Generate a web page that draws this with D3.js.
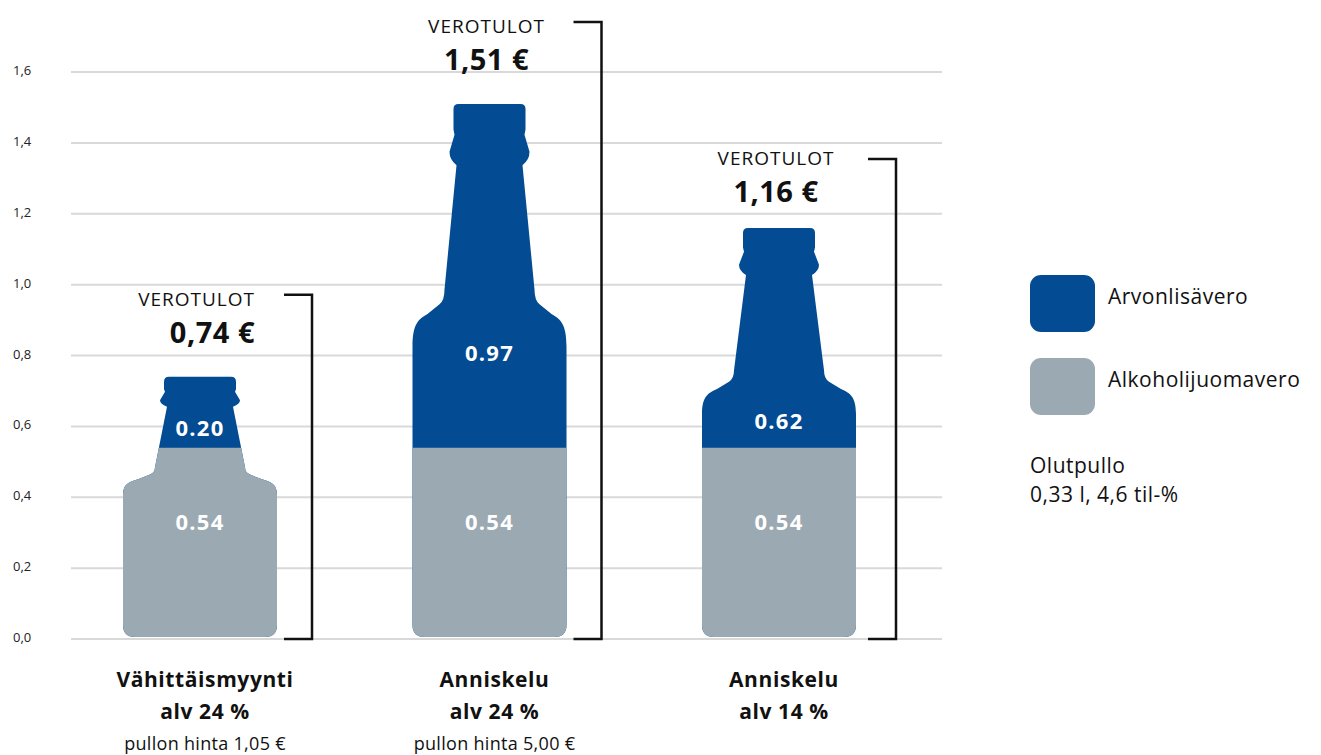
<!DOCTYPE html>
<html>
<head>
<meta charset="utf-8">
<script src="https://cdn.jsdelivr.net/npm/d3@7"></script>
<style>
  body { margin: 0; background: #fff; }
  text { font-family: "Open Sans", sans-serif; }
</style>
</head>
<body>
<div id="chart"></div>
<script>
// data
const categories = ["Vähittäismyynti", "Anniskelu", "Anniskelu "];
const alvLabels = ["alv 24 %", "alv 24 %", "alv 14 %"];
const priceLabels = ["pullon hinta 1,05 €", "pullon hinta 5,00 €", ""];
const alkoholivero = [0.54, 0.54, 0.54];
const arvonlisavero = [0.20, 0.97, 0.62];
const totalLabels = ["0,74 €", "1,51 €", "1,16 €"];
const yTicks = [0, 0.2, 0.4, 0.6, 0.8, 1.0, 1.2, 1.4, 1.6];
const legendNames = ["Arvonlisävero", "Alkoholijuomavero"];

const BLUE = "#034b93", GRAY = "#9ba9b2";
const width = 1321, height = 755;

let svg = d3.select("#chart").append("svg")
    .attr("width", width)
    .attr("height", height);

let y = d3.scaleLinear().domain([0, 1.6]).range([639, 72]);
let x = d3.scalePoint().domain(categories).range([200, 779]);

// gridlines + y labels
svg.append("g").selectAll("line").data(yTicks).enter()
    .append("line")
    .attr("x1", 71).attr("x2", 942)
    .attr("y1", d => y(d)).attr("y2", d => y(d))
    .attr("stroke", "#d9d9d9").attr("stroke-width", 2);

svg.append("g").selectAll("text").data(yTicks).enter()
    .append("text")
    .attr("x", 13)
    .attr("y", d => y(d) + 3)
    .style("font-size", "13px")
    .attr("fill", "#222")
    .text(d => d3.format(".1f")(d).replace(".", ","));

// bottle outline, left profile mirrored to the right
function bottlePath(cx, y0, y1) {
  const H = y0 - y1;
  const Y = t => y0 - t * H;
  const r = 12;
  const start = [-77 + r, y0];
  const segs = [
    ["Q", [[-77, y0]], [-77, y0 - r]],
    ["L", [], [-77, Y(0.545)]],
    ["C", [[-77, Y(0.588)], [-71, Y(0.596)]], [-62, Y(0.606)]],
    ["L", [], [-50, Y(0.624)]],
    ["Q", [[-45, Y(0.632)]], [-45, Y(0.652)]],
    ["L", [], [-33, Y(0.885)]],
    ["Q", [[-40, Y(0.895)]], [-40, Y(0.91)]],
    ["L", [], [-35, Y(0.942)]],
    ["L", [], [-36, Y(0.952)]],
    ["L", [], [-36, y1 + 5]],
    ["Q", [[-36, y1]], [-31, y1]]
  ];
  const p = d3.path();
  p.moveTo(cx, y0);
  p.lineTo(cx + start[0], start[1]);
  function draw(type, cs, end, m) {
    const X = w => cx + m * w;
    if (type === "L") p.lineTo(X(end[0]), end[1]);
    else if (type === "Q") p.quadraticCurveTo(X(cs[0][0]), cs[0][1], X(end[0]), end[1]);
    else p.bezierCurveTo(X(cs[0][0]), cs[0][1], X(cs[1][0]), cs[1][1], X(end[0]), end[1]);
  }
  segs.forEach(s => draw(s[0], s[1], s[2], 1));
  p.lineTo(cx + 31, y1);
  for (let i = segs.length - 1; i >= 0; i--) {
    const prev = i === 0 ? start : segs[i - 1][2];
    draw(segs[i][0], segs[i][1].slice().reverse(), prev, -1);
  }
  p.closePath();
  return p.toString();
}

let defs = svg.append("defs");

categories.forEach(function(c, i) {
  const cx = x(c);
  const total = alkoholivero[i] + arvonlisavero[i];
  const base = y(0) - 2, top = y(total);
  const split = y(alkoholivero[i]);
  const path = bottlePath(cx, base, top);

  defs.append("clipPath").attr("id", "clip" + i)
    .append("rect")
    .attr("x", cx - 100).attr("y", split)
    .attr("width", 200).attr("height", base - split + 2);

  svg.append("path").attr("d", path).attr("fill", BLUE);
  svg.append("path").attr("d", path).attr("fill", GRAY)
    .attr("clip-path", `url(#clip${i})`);

  // value labels
  const bodyTop = base - 0.545 * (base - top);
  svg.append("text")
    .attr("x", cx).attr("y", Math.min(bodyTop + 7, split - 20) + 8)
    .style("text-anchor", "middle").style("font-size", "22px")
    .style("font-weight", "bold").style("letter-spacing", "1.2px")
    .attr("fill", "#fff")
    .text(arvonlisavero[i].toFixed(2));
  svg.append("text")
    .attr("x", cx).attr("y", y(0.33) + 8)
    .style("text-anchor", "middle").style("font-size", "22px")
    .style("font-weight", "bold").style("letter-spacing", "1.2px")
    .attr("fill", "#fff")
    .text(alkoholivero[i].toFixed(2));

  // bracket
  const bx = cx + 112 + (i === 2 ? 5 : 0);
  const bTop = top - (i === 2 ? 69 : 82);
  svg.append("path")
    .attr("d", `M${bx - 28},${bTop}H${bx}V${y(0)}H${bx - 28}`)
    .attr("fill", "none").attr("stroke", "#111").attr("stroke-width", 2.5);

  // VEROTULOT + total
  const tx = i === 0 ? cx + 55 : cx - 3;
  const anchor = i === 0 ? "end" : "middle";
  const off = i === 2 ? 63 : 71;
  svg.append("text")
    .attr("x", tx).attr("y", top - off)
    .style("text-anchor", anchor).style("font-size", "19px")
    .style("letter-spacing", "1px").attr("fill", "#111")
    .text("VEROTULOT");
  svg.append("text")
    .attr("x", tx).attr("y", top - off + 37)
    .style("text-anchor", anchor).style("font-size", "29px")
    .style("font-weight", "bold").style("letter-spacing", "0.5px")
    .attr("fill", "#111")
    .text(totalLabels[i]);

  // category labels
  svg.append("text")
    .attr("x", cx + 5).attr("y", 687)
    .style("text-anchor", "middle").style("font-size", "21px")
    .style("font-weight", "bold").style("letter-spacing", "0.6px")
    .attr("fill", "#111")
    .text(c.trim());
  svg.append("text")
    .attr("x", cx + 5).attr("y", 719)
    .style("text-anchor", "middle").style("font-size", "21px")
    .style("font-weight", "bold").style("letter-spacing", "0.6px")
    .attr("fill", "#111")
    .text(alvLabels[i]);
  svg.append("text")
    .attr("x", cx + 5).attr("y", 750)
    .style("text-anchor", "middle").style("font-size", "18px")
    .style("letter-spacing", "0.3px")
    .attr("fill", "#111")
    .text(priceLabels[i]);
});

// legend
let legend = svg.append("g").attr("transform", "translate(1030, 275)");
[BLUE, GRAY].forEach(function(col, i) {
  legend.append("rect")
    .attr("x", 0).attr("y", i * 83)
    .attr("width", 65).attr("height", 57)
    .attr("rx", 11).attr("fill", col);
  legend.append("text")
    .attr("x", 78).attr("y", i * 83 + 29)
    .style("font-size", "21px").style("letter-spacing", "0.5px")
    .attr("fill", "#111")
    .text(legendNames[i]);
});
legend.append("text").attr("x", 0).attr("y", 198)
    .style("font-size", "21px").style("letter-spacing", "0.5px")
    .attr("fill", "#111").text("Olutpullo");
legend.append("text").attr("x", 0).attr("y", 227)
    .style("font-size", "21px").style("letter-spacing", "0.5px")
    .attr("fill", "#111").text("0,33 l, 4,6 til-%");
</script>
</body>
</html>
